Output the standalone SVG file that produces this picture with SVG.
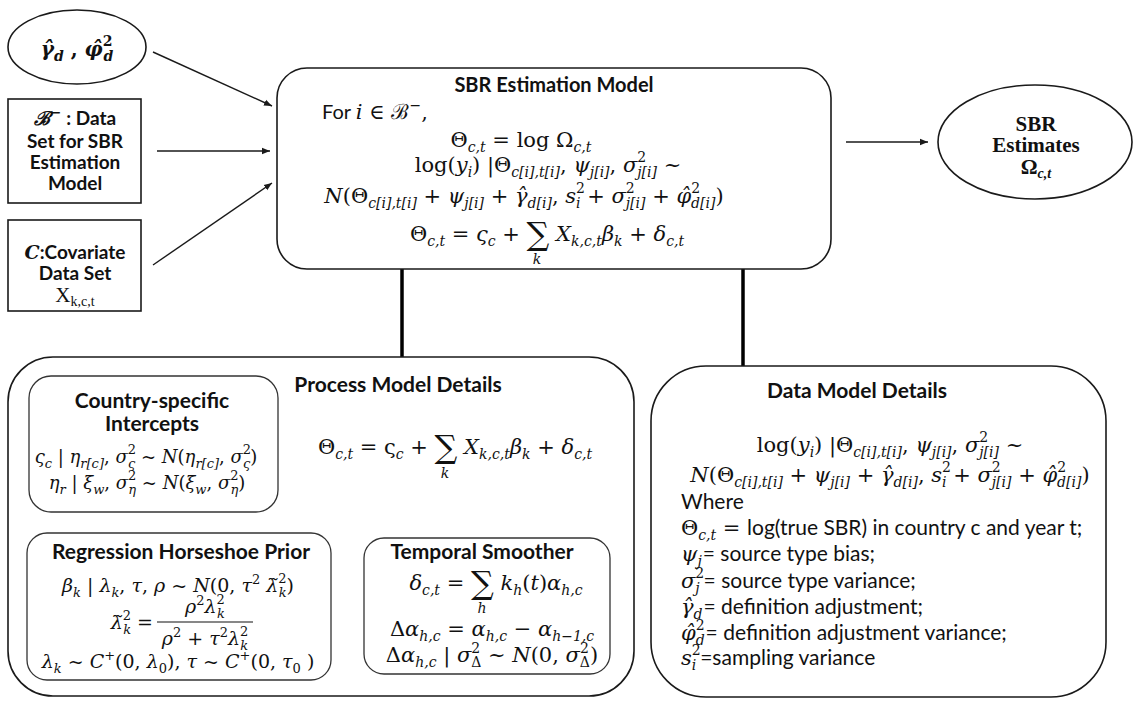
<svg xmlns="http://www.w3.org/2000/svg" width="1139" height="702" viewBox="0 0 1139 702">
<style>
.bx{fill:#fff;stroke:#1a1a1a;stroke-width:1.6}
.ib{fill:#fff;stroke:#333;stroke-width:1.3}
.ar{stroke:#1a1a1a;stroke-width:1.4;fill:none;marker-end:url(#ah)}
.cn{stroke:#000;stroke-width:3.5}
.h{font-family:Lato,"Liberation Sans",sans-serif;font-weight:bold;font-size:21px;fill:#111}
.h19{font-family:Lato,"Liberation Sans",sans-serif;font-weight:bold;font-size:19px;fill:#111}
.sn{font-family:Lato,"Liberation Sans",sans-serif;font-size:21px;font-style:normal;fill:#111}
.m{font-family:"DejaVu Serif","Liberation Serif",serif;font-size:21px;fill:#111}
.m19{font-size:19px}
.m18{font-size:18px}
.bd{font-weight:bold}
.i{font-style:italic}
.s{font-size:14px}
.t{font-size:13px}
.bg{font-size:32px}
</style>
<defs>
<marker id="ah" viewBox="0 0 10 10" refX="10" refY="5" markerWidth="8" markerHeight="8" markerUnits="userSpaceOnUse" orient="auto"><path d="M0,1 L10,5 L0,9 z" fill="#1a1a1a"/></marker>
</defs>
<rect width="1139" height="702" fill="#fff"/>

<g id="connectors">
<line class="ar" x1="153" y1="52" x2="272" y2="106"/>
<line class="ar" x1="157" y1="151" x2="270" y2="151"/>
<line class="ar" x1="153" y1="265" x2="272" y2="183"/>
<line class="ar" x1="846" y1="142" x2="928" y2="142"/>
<line class="cn" x1="402" y1="269" x2="402" y2="357"/>
<line class="cn" x1="743" y1="269" x2="743" y2="366"/>
</g>

<g id="node-gamma-phi">
<ellipse class="bx" cx="77" cy="47" rx="69" ry="37"/>
<text class="m bd" x="77" y="56" text-anchor="middle" style="font-size:20px"><tspan class="i">γ̂</tspan><tspan class="s i" dy="5">d</tspan><tspan dy="-5"> , </tspan><tspan class="i">φ̂</tspan><tspan class="s" dy="-10">2</tspan><tspan class="s i" dx="-9" dy="15">d</tspan></text>
</g>

<g id="node-dataset-b">
<rect class="bx" x="8" y="99" width="133" height="104"/>
<text class="h19" x="75" y="125" text-anchor="middle"><tspan class="m i bd" style="font-size:19px">ℬ</tspan><tspan class="m s" dy="-8">−</tspan><tspan dy="8"> : Data</tspan></text>
<text class="h19" x="75" y="148" text-anchor="middle">Set for SBR</text>
<text class="h19" x="75" y="169" text-anchor="middle">Estimation</text>
<text class="h19" x="75" y="190" text-anchor="middle">Model</text>
</g>

<g id="node-covariate">
<rect class="bx" x="8" y="220" width="133" height="91"/>
<text class="h19" x="75" y="259" text-anchor="middle"><tspan class="m i bd" style="font-size:19px">C</tspan>:Covariate</text>
<text class="h19" x="75" y="280" text-anchor="middle">Data Set</text>
<text class="m" x="75" y="302" text-anchor="middle" style="font-family:'Liberation Serif',serif;font-size:21px">X<tspan class="s" dy="4">k,c,t</tspan></text>
</g>

<g id="node-estimation-model">
<rect class="bx" x="277" y="68" width="554" height="201" rx="30"/>
<text class="h" x="554" y="92" text-anchor="middle" style="font-size:20px">SBR Estimation Model</text>
<text class="m" x="322" y="119"><tspan class="sn" style="font-size:20px">For </tspan><tspan class="i">i</tspan> ∈ ℬ<tspan class="s" dy="-9">−</tspan><tspan dy="9">,</tspan></text>
<text class="m" x="521" y="147" text-anchor="middle">Θ<tspan class="s i" dy="5">c,t</tspan><tspan dy="-5"> = log Ω</tspan><tspan class="s i" dy="5">c,t</tspan></text>
<text class="m" x="548" y="172" text-anchor="middle">log(<tspan class="i">y</tspan><tspan class="s i" dy="5">i</tspan><tspan dy="-5">) |Θ</tspan><tspan class="s i" dy="5">c[i],t[i]</tspan><tspan dy="-5">, </tspan><tspan class="i">ψ</tspan><tspan class="s i" dy="5">j[i]</tspan><tspan dy="-5">, </tspan><tspan class="i">σ</tspan><tspan class="s" dy="-10">2</tspan><tspan class="s i" dx="-9" dy="15">j[i]</tspan><tspan dy="-5"> ~</tspan></text>
<text class="m" x="524" y="203" text-anchor="middle"><tspan class="i">N</tspan>(Θ<tspan class="s i" dy="5">c[i],t[i]</tspan><tspan dy="-5"> + </tspan><tspan class="i">ψ</tspan><tspan class="s i" dy="5">j[i]</tspan><tspan dy="-5"> + </tspan><tspan class="i">γ̂</tspan><tspan class="s i" dy="5">d[i]</tspan><tspan dy="-5">, </tspan><tspan class="i">s</tspan><tspan class="s" dy="-10">2</tspan><tspan class="s i" dx="-9" dy="15">i</tspan><tspan dy="-5"> + </tspan><tspan class="i">σ</tspan><tspan class="s" dy="-10">2</tspan><tspan class="s i" dx="-9" dy="15">j[i]</tspan><tspan dy="-5"> + </tspan><tspan class="i">φ̂</tspan><tspan class="s" dy="-10">2</tspan><tspan class="s i" dx="-9" dy="15">d[i]</tspan><tspan dy="-5">)</tspan></text>
<text class="m" x="547" y="241" text-anchor="middle">Θ<tspan class="s i" dy="5">c,t</tspan><tspan dy="-5"> = </tspan><tspan class="i">ς</tspan><tspan class="s i" dy="5">c</tspan><tspan dy="-5"> + </tspan><tspan class="bg" dy="4">∑</tspan><tspan class="i" dy="-4"> X</tspan><tspan class="s i" dy="5">k,c,t</tspan><tspan class="i" dy="-5">β</tspan><tspan class="s i" dy="5">k</tspan><tspan dy="-5"> + </tspan><tspan class="i">δ</tspan><tspan class="s i" dy="5">c,t</tspan></text>
<text class="m i s" x="537" y="264" text-anchor="middle">k</text>
</g>

<g id="node-sbr-estimates">
<ellipse class="bx" cx="1035" cy="142" rx="97" ry="57"/>
<text class="m bd" x="1036" y="131" text-anchor="middle" style="font-family:'Liberation Serif',serif">SBR</text>
<text class="m bd" x="1036" y="152" text-anchor="middle" style="font-family:'Liberation Serif',serif">Estimates</text>
<text class="m bd" x="1036" y="174" text-anchor="middle" style="font-family:'Liberation Serif',serif">Ω<tspan class="s i" dy="4">c,t</tspan></text>
</g>

<g id="node-process-model">
<rect class="bx" x="8" y="357" width="626" height="339" rx="45"/>
<text class="h" x="398" y="392" text-anchor="middle">Process Model Details</text>
<text class="m" x="455" y="454" text-anchor="middle">Θ<tspan class="s i" dy="5">c,t</tspan><tspan dy="-5"> = ς</tspan><tspan class="s i" dy="5">c</tspan><tspan dy="-5"> + </tspan><tspan class="bg" dy="4">∑</tspan><tspan class="i" dy="-4"> X</tspan><tspan class="s i" dy="5">k,c,t</tspan><tspan class="i" dy="-5">β</tspan><tspan class="s i" dy="5">k</tspan><tspan dy="-5"> + </tspan><tspan class="i">δ</tspan><tspan class="s i" dy="5">c,t</tspan></text>
<text class="m i s" x="445" y="478" text-anchor="middle">k</text>
</g>

<g id="node-country-intercepts">
<rect class="ib" x="29" y="376" width="249" height="136" rx="22"/>
<text class="h" x="152" y="408" text-anchor="middle">Country-specific</text>
<text class="h" x="152" y="431" text-anchor="middle">Intercepts</text>
<text class="m m18" x="146" y="463" text-anchor="middle"><tspan class="i">ς</tspan><tspan class="t i" dy="5">c</tspan><tspan dy="-5"> | </tspan><tspan class="i">η</tspan><tspan class="t i" dy="5">r[c]</tspan><tspan dy="-5">, </tspan><tspan class="i">σ</tspan><tspan class="t" dy="-9">2</tspan><tspan class="t i" dx="-8" dy="14">ς</tspan><tspan dy="-5"> ~ </tspan><tspan class="i">N</tspan>(<tspan class="i">η</tspan><tspan class="t i" dy="5">r[c]</tspan><tspan dy="-5">, </tspan><tspan class="i">σ</tspan><tspan class="t" dy="-9">2</tspan><tspan class="t i" dx="-8" dy="14">ς</tspan><tspan dy="-5">)</tspan></text>
<text class="m m18" x="147" y="489" text-anchor="middle"><tspan class="i">η</tspan><tspan class="t i" dy="5">r</tspan><tspan dy="-5"> | </tspan><tspan class="i">ξ</tspan><tspan class="t i" dy="5">w</tspan><tspan dy="-5">, </tspan><tspan class="i">σ</tspan><tspan class="t" dy="-9">2</tspan><tspan class="t i" dx="-8" dy="14">η</tspan><tspan dy="-5"> ~ </tspan><tspan class="i">N</tspan>(<tspan class="i">ξ</tspan><tspan class="t i" dy="5">w</tspan><tspan dy="-5">, </tspan><tspan class="i">σ</tspan><tspan class="t" dy="-9">2</tspan><tspan class="t i" dx="-8" dy="14">η</tspan><tspan dy="-5">)</tspan></text>
</g>

<g id="node-horseshoe-prior">
<rect class="ib" x="27" y="533" width="304" height="147" rx="20"/>
<text class="h" x="181" y="559" text-anchor="middle">Regression Horseshoe Prior</text>
<text class="m m19" x="178" y="592" text-anchor="middle"><tspan class="i">β</tspan><tspan class="t i" dy="5">k</tspan><tspan dy="-5"> | </tspan><tspan class="i">λ</tspan><tspan class="t i" dy="5">k</tspan><tspan dy="-5">, </tspan><tspan class="i">τ</tspan>, <tspan class="i">ρ</tspan> ~ <tspan class="i">N</tspan>(0, <tspan class="i">τ</tspan><tspan class="t" dy="-8">2</tspan><tspan dy="8"> </tspan><tspan class="i">λ̃</tspan><tspan class="t" dy="-9">2</tspan><tspan class="t i" dx="-8" dy="14">k</tspan><tspan dy="-5">)</tspan></text>
<text class="m m19" x="153" y="629" text-anchor="end"><tspan class="i">λ̃</tspan><tspan class="t" dy="-9">2</tspan><tspan class="t i" dx="-8" dy="14">k</tspan><tspan dy="-5"> =</tspan></text>
<text class="m m19" x="205" y="613" text-anchor="middle"><tspan class="i">ρ</tspan><tspan class="t" dy="-8">2</tspan><tspan class="i" dy="8">λ</tspan><tspan class="t" dy="-9">2</tspan><tspan class="t i" dx="-8" dy="14">k</tspan></text>
<line x1="157" y1="622" x2="253" y2="622" stroke="#111" stroke-width="1.1"/>
<text class="m m19" x="205" y="645" text-anchor="middle"><tspan class="i">ρ</tspan><tspan class="t" dy="-8">2</tspan><tspan dy="8"> + </tspan><tspan class="i">τ</tspan><tspan class="t" dy="-8">2</tspan><tspan class="i" dy="8">λ</tspan><tspan class="t" dy="-9">2</tspan><tspan class="t i" dx="-8" dy="14">k</tspan></text>
<text class="m m19" x="178" y="668" text-anchor="middle"><tspan class="i">λ</tspan><tspan class="t i" dy="5">k</tspan><tspan dy="-5"> ~ </tspan><tspan class="i">C</tspan><tspan class="t" dy="-8">+</tspan><tspan dy="8">(0, </tspan><tspan class="i">λ</tspan><tspan class="t" dy="5">0</tspan><tspan dy="-5">), </tspan><tspan class="i">τ</tspan> ~ <tspan class="i">C</tspan><tspan class="t" dy="-8">+</tspan><tspan dy="8">(0, </tspan><tspan class="i">τ</tspan><tspan class="t" dy="5">0</tspan><tspan dy="-5"> )</tspan></text>
</g>

<g id="node-temporal-smoother">
<rect class="ib" x="364" y="538" width="246" height="136" rx="20"/>
<text class="h" x="482" y="559" text-anchor="middle">Temporal Smoother</text>
<text class="m" x="496" y="590" text-anchor="middle"><tspan class="i">δ</tspan><tspan class="s i" dy="5">c,t</tspan><tspan dy="-5"> = </tspan><tspan class="bg" dy="4">∑</tspan><tspan class="i" dy="-4"> k</tspan><tspan class="s i" dy="5">h</tspan><tspan dy="-5">(</tspan><tspan class="i">t</tspan>)<tspan class="i">α</tspan><tspan class="s i" dy="5">h,c</tspan></text>
<text class="m i s" x="482" y="613" text-anchor="middle">h</text>
<text class="m" x="492" y="636" text-anchor="middle">Δ<tspan class="i">α</tspan><tspan class="s i" dy="5">h,c</tspan><tspan dy="-5"> = </tspan><tspan class="i">α</tspan><tspan class="s i" dy="5">h,c</tspan><tspan dy="-5"> − </tspan><tspan class="i">α</tspan><tspan class="s i" dy="5">h−1,c</tspan></text>
<text class="m" x="492" y="662" text-anchor="middle">Δ<tspan class="i">α</tspan><tspan class="s i" dy="5">h,c</tspan><tspan dy="-5"> | </tspan><tspan class="i">σ</tspan><tspan class="s" dy="-9">2</tspan><tspan class="s" dx="-9" dy="14">Δ</tspan><tspan dy="-5"> ~ </tspan><tspan class="i">N</tspan>(0, <tspan class="i">σ</tspan><tspan class="s" dy="-9">2</tspan><tspan class="s" dx="-9" dy="14">Δ</tspan><tspan dy="-5">)</tspan></text>
</g>

<g id="node-data-model">
<rect class="bx" x="651" y="366" width="455" height="331" rx="55"/>
<text class="h" x="857" y="398" text-anchor="middle">Data Model Details</text>
<text class="m" x="890" y="452" text-anchor="middle">log(<tspan class="i">y</tspan><tspan class="s i" dy="5">i</tspan><tspan dy="-5">) |Θ</tspan><tspan class="s i" dy="5">c[i],t[i]</tspan><tspan dy="-5">, </tspan><tspan class="i">ψ</tspan><tspan class="s i" dy="5">j[i]</tspan><tspan dy="-5">, </tspan><tspan class="i">σ</tspan><tspan class="s" dy="-10">2</tspan><tspan class="s i" dx="-9" dy="15">j[i]</tspan><tspan dy="-5"> ~</tspan></text>
<text class="m" x="890" y="482" text-anchor="middle"><tspan class="i">N</tspan>(Θ<tspan class="s i" dy="5">c[i],t[i]</tspan><tspan dy="-5"> + </tspan><tspan class="i">ψ</tspan><tspan class="s i" dy="5">j[i]</tspan><tspan dy="-5"> + </tspan><tspan class="i">γ̂</tspan><tspan class="s i" dy="5">d[i]</tspan><tspan dy="-5">, </tspan><tspan class="i">s</tspan><tspan class="s" dy="-10">2</tspan><tspan class="s i" dx="-9" dy="15">i</tspan><tspan dy="-5"> + </tspan><tspan class="i">σ</tspan><tspan class="s" dy="-10">2</tspan><tspan class="s i" dx="-9" dy="15">j[i]</tspan><tspan dy="-5"> + </tspan><tspan class="i">φ̂</tspan><tspan class="s" dy="-10">2</tspan><tspan class="s i" dx="-9" dy="15">d[i]</tspan><tspan dy="-5">)</tspan></text>
<text class="sn" x="681" y="509">Where</text>
<text class="m" x="681" y="535">Θ<tspan class="s i" dy="5">c,t</tspan><tspan dy="-5"> = </tspan><tspan class="sn">log(true SBR) in country c and year t;</tspan></text>
<text class="m" x="681" y="561"><tspan class="i">ψ</tspan><tspan class="s i" dy="5">j</tspan><tspan class="sn" dx="1" dy="-5">= source type bias;</tspan></text>
<text class="m" x="681" y="588"><tspan class="i">σ</tspan><tspan class="s" dy="-10">2</tspan><tspan class="s i" dx="-9" dy="15">j</tspan><tspan class="sn" dx="4" dy="-5">= source type variance;</tspan></text>
<text class="m" x="681" y="614"><tspan class="i">γ̂</tspan><tspan class="s i" dy="5">d</tspan><tspan class="sn" dx="1" dy="-5">= definition adjustment;</tspan></text>
<text class="m" x="681" y="640"><tspan class="i">φ̂</tspan><tspan class="s" dy="-10">2</tspan><tspan class="s i" dx="-9" dy="15">d</tspan><tspan class="sn" dx="1" dy="-5">= definition adjustment variance;</tspan></text>
<text class="m" x="681" y="665"><tspan class="i">s</tspan><tspan class="s" dy="-10">2</tspan><tspan class="s i" dx="-9" dy="15">i</tspan><tspan class="sn" dx="4" dy="-5">=sampling variance</tspan></text>
</g>
</svg>
